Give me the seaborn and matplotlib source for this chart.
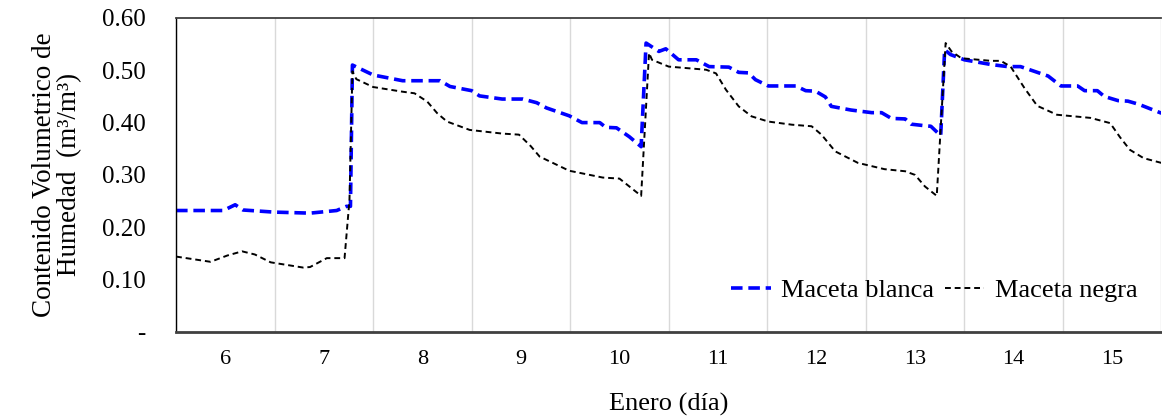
import numpy as np
import pandas as pd
import seaborn as sns
import matplotlib
matplotlib.use("Agg")
import matplotlib.pyplot as plt
from matplotlib.ticker import FixedLocator, FixedFormatter, NullFormatter

# ---- data ----
blanca_dia = [5.50, 5.98, 6.10, 6.18, 6.49, 6.86, 7.13, 7.23, 7.27, 7.29, 7.50, 7.80, 8.18, 8.28,
              8.50, 8.58, 8.81, 9.02, 9.16, 9.26, 9.49, 9.62, 9.80, 9.86, 9.97, 10.10, 10.22,
              10.27, 10.40, 10.47, 10.60, 10.78, 10.91, 11.11, 11.21, 11.31, 11.38, 11.51, 11.79,
              11.89, 11.99, 12.09, 12.15, 12.35, 12.56, 12.66, 12.76, 12.90, 12.96, 13.10, 13.16,
              13.26, 13.30, 13.36, 13.50, 13.77, 13.94, 14.07, 14.21, 14.35, 14.48, 14.65, 14.72,
              14.85, 14.92, 15.06, 15.16, 15.27, 15.50]
blanca_val = [0.232, 0.232, 0.243, 0.233, 0.229, 0.227, 0.232, 0.240, 0.240, 0.510, 0.491, 0.480,
              0.480, 0.469, 0.461, 0.451, 0.445, 0.445, 0.438, 0.428, 0.413, 0.400, 0.400, 0.391,
              0.390, 0.373, 0.354, 0.552, 0.536, 0.541, 0.520, 0.520, 0.507, 0.506, 0.496, 0.495,
              0.482, 0.470, 0.470, 0.461, 0.460, 0.449, 0.431, 0.424, 0.419, 0.419, 0.408, 0.407,
              0.397, 0.394, 0.393, 0.375, 0.539, 0.530, 0.520, 0.511, 0.507, 0.507, 0.498, 0.489,
              0.470, 0.470, 0.461, 0.461, 0.450, 0.442, 0.441, 0.435, 0.418]

negra_dia = [5.50, 5.85, 6.02, 6.17, 6.30, 6.46, 6.79, 6.86, 7.03, 7.21, 7.26, 7.29, 7.33, 7.50,
             7.80, 7.92, 8.05, 8.15, 8.25, 8.48, 8.81, 8.98, 9.10, 9.19, 9.49, 9.83, 10.00, 10.10,
             10.22, 10.30, 10.33, 10.50, 10.88, 10.98, 11.08, 11.21, 11.34, 11.51, 11.75, 11.95,
             12.05, 12.19, 12.42, 12.69, 12.90, 13.00, 13.10, 13.22, 13.31, 13.37, 13.47, 13.77,
             13.87, 13.97, 14.11, 14.24, 14.44, 14.78, 14.98, 15.08, 15.18, 15.32, 15.50]
negra_val = [0.144, 0.134, 0.146, 0.154, 0.148, 0.133, 0.123, 0.124, 0.141, 0.141, 0.252, 0.498,
             0.483, 0.468, 0.459, 0.456, 0.440, 0.418, 0.402, 0.386, 0.379, 0.377, 0.355, 0.335,
             0.308, 0.295, 0.293, 0.278, 0.260, 0.533, 0.520, 0.507, 0.501, 0.494, 0.463, 0.431,
             0.412, 0.402, 0.396, 0.393, 0.377, 0.345, 0.323, 0.311, 0.307, 0.300, 0.278, 0.260,
             0.552, 0.536, 0.523, 0.518, 0.518, 0.507, 0.466, 0.432, 0.415, 0.409, 0.399, 0.372,
             0.348, 0.332, 0.323]

dias = [6, 7, 8, 9, 10, 11, 12, 13, 14, 15]
y_ticks = [0.0, 0.1, 0.2, 0.3, 0.4, 0.5, 0.6]
y_labels = ["-", "0.10", "0.20", "0.30", "0.40", "0.50", "0.60"]

# ---- plot ----
sns.set_style("white")
plt.rcParams['font.family'] = ['Liberation Serif', 'DejaVu Serif']
plt.rcParams['text.color'] = 'black'
plt.rcParams['axes.labelcolor'] = 'black'
plt.rcParams['xtick.color'] = 'black'
plt.rcParams['ytick.color'] = 'black'

fig = plt.figure(figsize=(11.62, 4.17), dpi=100)
ax = fig.add_axes([0.1515, 0.204, 0.848, 0.753])

sns.lineplot(x=blanca_dia, y=blanca_val, ax=ax, color="#0000ff", linewidth=2.6,
             linestyle=(0, (3.2, 1.6)), estimator=None, sort=False, label="Maceta blanca")
sns.lineplot(x=negra_dia, y=negra_val, ax=ax, color="black", linewidth=1.4,
             linestyle=(0, (3.0, 2.0)), estimator=None, sort=False, label="Maceta negra")

ax.set_xlim(5.5, 15.5)
ax.set_ylim(0, 0.6)

# x: boundaries as major ticks (marks + grid), day labels at centres
bounds = [d - 0.5 for d in dias] + [dias[-1] + 0.5]
ax.xaxis.set_major_locator(FixedLocator(bounds))
ax.xaxis.set_major_formatter(NullFormatter())
ax.xaxis.set_minor_locator(FixedLocator(dias))
ax.xaxis.set_minor_formatter(FixedFormatter([str(d) for d in dias]))
ax.tick_params(axis='x', which='major', direction='out', length=5, width=1.2, color='#404040')
ax.tick_params(axis='x', which='minor', length=0, pad=13, labelsize=16, labelcolor='black')
ax.grid(True, axis='x', which='major', color='#d9d9d9', linewidth=1.0)
ax.grid(False, axis='y')

ax.yaxis.set_major_locator(FixedLocator(y_ticks))
ax.yaxis.set_major_formatter(FixedFormatter(y_labels))
ax.tick_params(axis='y', direction='out', length=8, width=1.0, color='black', labelsize=18,
               pad=14, labelcolor='black')

for side in ['left', 'top', 'bottom']:
    ax.spines[side].set_visible(True)
ax.spines['left'].set_color('black')
ax.spines['left'].set_linewidth(1.0)
ax.spines['top'].set_color('#404040')
ax.spines['top'].set_linewidth(1.3)
ax.spines['bottom'].set_color('#404040')
ax.spines['bottom'].set_linewidth(2.0)
ax.spines['right'].set_visible(False)

ax.set_xlabel("Enero (día)", fontsize=19, labelpad=17, color='black')
ax.set_ylabel("Contenido Volumetrico de\nHumedad  (m³/m³)", fontsize=19.5, labelpad=14,
              linespacing=1.0, color='black')

leg = ax.legend(loc='lower right', bbox_to_anchor=(1.0, 0.02), ncol=2, frameon=False,
                fontsize=19, handlelength=1.5, columnspacing=0.4, handletextpad=0.4)
for t in leg.get_texts():
    t.set_color('black')

fig.savefig("out.png", dpi=100)
